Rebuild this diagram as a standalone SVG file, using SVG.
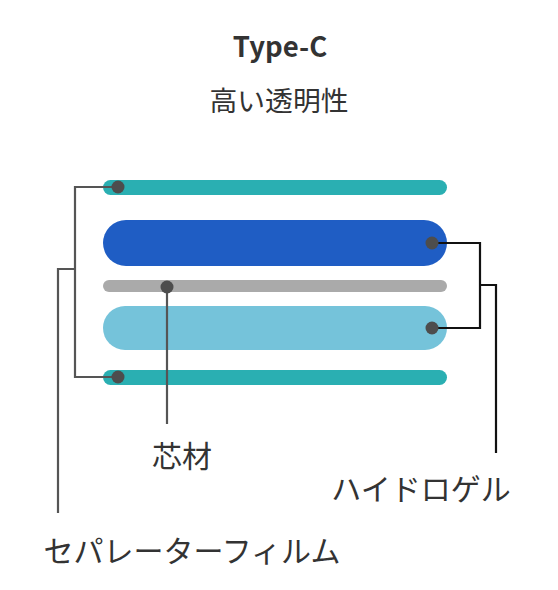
<svg xmlns="http://www.w3.org/2000/svg" width="558" height="590" viewBox="0 0 558 590">
<style>
.t{font-family:"Noto Sans CJK JP","Noto Sans",sans-serif;fill:#333;}
.dot{fill:#4d4d4d;}
.sep{fill:none;stroke:#555;stroke-width:2.2;}
.hyd{fill:none;stroke:#111;stroke-width:2.2;}
</style>
<rect width="558" height="590" fill="#fff"/>
<text class="t" x="280" y="57" font-size="27.5" font-weight="bold" text-anchor="middle">Type-C</text>
<text class="t" x="279" y="111" font-size="27.8" text-anchor="middle">高い透明性</text>
<g id="layers">
<g id="film-top"><rect x="103" y="180" width="344" height="15" rx="7.5" fill="#2aafb2"/></g>
<g id="gel-top"><rect x="103" y="220" width="344" height="46" rx="23" fill="#1f5dc4"/></g>
<g id="core"><rect x="103" y="280" width="344" height="12" rx="6" fill="#aaaaaa"/></g>
<g id="gel-bottom"><rect x="103" y="306" width="344" height="44" rx="22" fill="#75c3da"/></g>
<g id="film-bottom"><rect x="103" y="370" width="344" height="15" rx="7.5" fill="#2aafb2"/></g>
</g>
<g id="connectors">
<polyline class="sep" points="118,187 75,187 75,377 118,377"/>
<polyline class="sep" points="75,269 58,269 58,513"/>
<line class="sep" x1="167" y1="287" x2="167" y2="424"/>
<polyline class="hyd" points="432,243 480,243 480,328 432,328"/>
<polyline class="hyd" points="480,285 496,285 496,453"/>
</g>
<g id="dots">
<circle class="dot" cx="118" cy="187" r="6.5"/>
<circle class="dot" cx="118" cy="377" r="6.5"/>
<circle class="dot" cx="167" cy="287" r="6.5"/>
<circle class="dot" cx="432" cy="243" r="6.5"/>
<circle class="dot" cx="432" cy="328" r="6.5"/>
</g>
<g id="label-core"><text class="t" x="182" y="467" font-size="30" text-anchor="middle">芯材</text></g>
<g id="label-gel"><text class="t" x="421" y="500" font-size="30" text-anchor="middle">ハイドロゲル</text></g>
<g id="label-sep"><text class="t" x="192" y="562" font-size="30" text-anchor="middle">セパレーターフィルム</text></g>
</svg>
